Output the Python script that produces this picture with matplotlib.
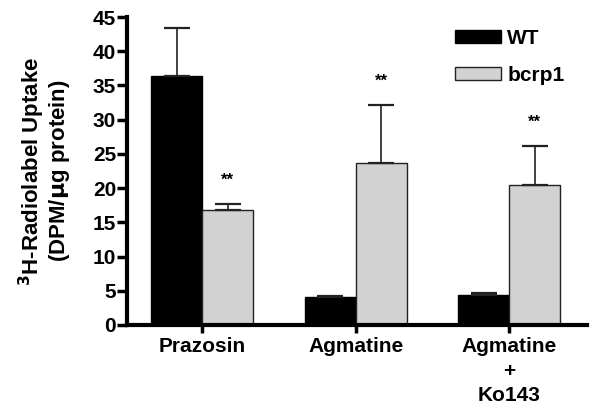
import matplotlib
matplotlib.use('Agg')
import matplotlib.pyplot as plt
import numpy as np

plt.rcParams['font.family'] = ['Liberation Sans', 'DejaVu Sans']
plt.rcParams['font.weight'] = 'bold'
plt.rcParams['mathtext.default'] = 'bf'

# ---------- data ----------
groups = ['Prazosin', 'Agmatine', 'Agmatine\n+\nKo143']
wt_mean = [36.4, 4.1, 4.4]
wt_err = [7.0, 0.15, 0.25]
bcrp1_mean = [16.8, 23.7, 20.4]
bcrp1_err = [0.9, 8.4, 5.7]
yticks = [0, 5, 10, 15, 20, 25, 30, 35, 40, 45]

# ---------- plot ----------
fig = plt.figure(figsize=(6.0, 4.15), dpi=100)
ax = fig.add_axes([0.212, 0.217, 0.767, 0.742])

x = np.arange(len(groups))
w = 0.333
ax.bar(x - w / 2, wt_mean, w, color='black', edgecolor='black', linewidth=1, label='WT')
ax.bar(x + w / 2, bcrp1_mean, w, color='#d2d2d2', edgecolor='#222222', linewidth=1, label='bcrp1')

# upward error bars only
ax.errorbar(x - w / 2, wt_mean, yerr=[np.zeros(3), wt_err], fmt='none',
            ecolor='#222222', elinewidth=1.2, capsize=9.7, capthick=1.6)
ax.errorbar(x + w / 2, bcrp1_mean, yerr=[np.zeros(3), bcrp1_err], fmt='none',
            ecolor='#222222', elinewidth=1.2, capsize=9.7, capthick=1.6)

for xi, m, e in zip(x + w / 2, bcrp1_mean, bcrp1_err):
    ax.text(xi, m + e + 3.5, '**', ha='center', va='center', fontsize=12, fontweight='bold')

ax.set_xlim(-0.49, 2.51)
ax.set_ylim(0, 45)
ax.set_yticks(yticks)
ax.set_xticks(x)
ax.set_xticklabels(groups, fontsize=15, fontweight='bold', linespacing=1.35)
ax.tick_params(axis='y', width=2.5, length=7, labelsize=15, pad=1)
ax.tick_params(axis='x', width=2.5, length=6, labelsize=15, pad=3)
for lab in ax.get_yticklabels():
    lab.set_fontweight('bold')

for s in ['top', 'right']:
    ax.spines[s].set_visible(False)
for s in ['left', 'bottom']:
    ax.spines[s].set_linewidth(3)

ax.set_ylabel('$^{3}$H-Radiolabel Uptake\n(DPM/$\\mathrm{\\mu}$g protein)', fontsize=16,
              fontweight='bold', linespacing=1.0)
ax.yaxis.set_label_coords(-0.12, 0.5)

leg = fig.legend(loc='upper left', bbox_to_anchor=(455 / 600, 1 - 29 / 415), frameon=False,
                 handlelength=2.2, handleheight=0.63, handletextpad=0.3,
                 labelspacing=0.85, borderpad=0, borderaxespad=0,
                 prop={'weight': 'bold', 'size': 15})

fig.savefig('out.png', dpi=100)
